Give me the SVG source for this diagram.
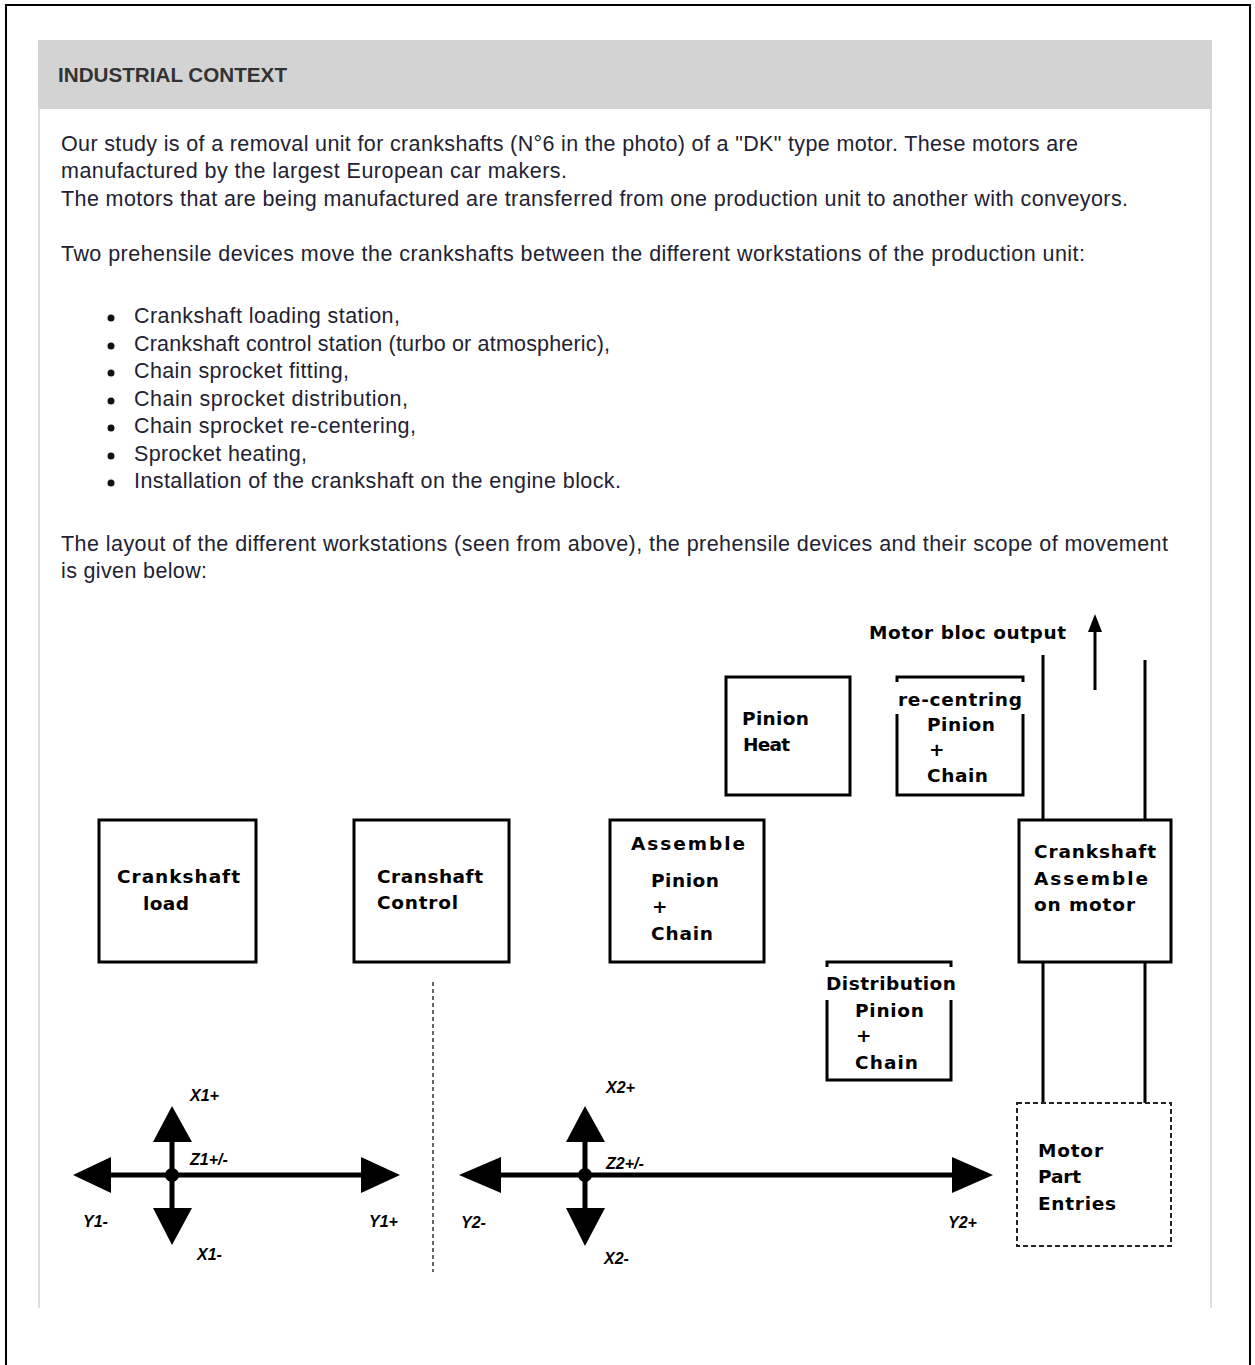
<svg xmlns="http://www.w3.org/2000/svg" width="1255" height="1365" viewBox="0 0 1255 1365">
<style>
.body{font-family:"Liberation Sans",Arial,sans-serif;font-size:21.5px;fill:#222233}
.hdr{font-family:"Liberation Sans",Arial,sans-serif;font-size:20px;font-weight:bold;fill:#333}
.lbl{font-family:"DejaVu Sans",sans-serif;font-size:18.5px;font-weight:bold;fill:#000}
.ax{font-family:"Liberation Sans",Arial,sans-serif;font-size:16px;font-weight:bold;font-style:italic;fill:#000}
.box{fill:#fff;stroke:#000;stroke-width:3}
.ln{stroke:#000;stroke-width:3;fill:none}
.axl{stroke:#000;stroke-width:5;fill:none}
.head{fill:#000}
</style>
<rect x="0" y="0" width="1255" height="1365" fill="#fff"/>
<path d="M6 1365 V5 H1250 V1365" fill="none" stroke="#000" stroke-width="2"/>
<rect x="38" y="40" width="1174" height="69" fill="#d3d3d3"/>
<path d="M39 109 V1308 M1211 109 V1308" stroke="#ddd" stroke-width="2"/>
<text class="hdr" x="58" y="82" textLength="229" lengthAdjust="spacingAndGlyphs">INDUSTRIAL CONTEXT</text>
<g id="intro">
<text class="body" x="61" y="151" textLength="1017">Our study is of a removal unit for crankshafts (N°6 in the photo) of a "DK" type motor. These motors are</text>
<text class="body" x="61" y="178" textLength="506">manufactured by the largest European car makers.</text>
<text class="body" x="61" y="206" textLength="1067">The motors that are being manufactured are transferred from one production unit to another with conveyors.</text>
<text class="body" x="61" y="261" textLength="1024">Two prehensile devices move the crankshafts between the different workstations of the production unit:</text>
</g>
<g id="bullets">
<circle cx="111" cy="318" r="3.5" fill="#111"/><text class="body" x="134" y="323" textLength="266">Crankshaft loading station,</text>
<circle cx="111" cy="346" r="3.5" fill="#111"/><text class="body" x="134" y="351" textLength="476">Crankshaft control station (turbo or atmospheric),</text>
<circle cx="111" cy="373" r="3.5" fill="#111"/><text class="body" x="134" y="378" textLength="215">Chain sprocket fitting,</text>
<circle cx="111" cy="401" r="3.5" fill="#111"/><text class="body" x="134" y="406" textLength="274">Chain sprocket distribution,</text>
<circle cx="111" cy="428" r="3.5" fill="#111"/><text class="body" x="134" y="433" textLength="282">Chain sprocket re-centering,</text>
<circle cx="111" cy="456" r="3.5" fill="#111"/><text class="body" x="134" y="461" textLength="173">Sprocket heating,</text>
<circle cx="111" cy="483" r="3.5" fill="#111"/><text class="body" x="134" y="488" textLength="487">Installation of the crankshaft on the engine block.</text>
</g>
<g id="layout-text">
<text class="body" x="61" y="551" textLength="1107">The layout of the different workstations (seen from above), the prehensile devices and their scope of movement</text>
<text class="body" x="61" y="578" textLength="146">is given below:</text>
</g>

<g id="connectors">
<path class="ln" d="M1043 655 V1103 M1145 660 V1103"/>
<path class="ln" d="M1095 690 V628"/>
<path class="head" d="M1095 614 L1088 632 L1102 632 Z"/>
<path d="M433 982 V1272" stroke="#333" stroke-width="1.5" stroke-dasharray="4 3"/>
</g>

<text class="lbl" x="869" y="639" textLength="197">Motor bloc output</text>

<g id="pinion-heat">
<rect class="box" x="726" y="677" width="124" height="118"/>
<text class="lbl" x="742" y="725" textLength="67">Pinion</text>
<text class="lbl" x="743" y="751" textLength="47">Heat</text>
</g>
<g id="recentring">
<path class="ln" d="M897 682 V677 H1023 V682 M897 714 V795 H1023 V714"/>
<text class="lbl" x="898" y="706" textLength="124">re-centring</text>
<text class="lbl" x="927" y="731" textLength="68">Pinion</text>
<text class="lbl" x="929" y="756">+</text>
<text class="lbl" x="927" y="782" textLength="61">Chain</text>
</g>
<g id="crankshaft-load">
<rect class="box" x="99" y="820" width="157" height="142"/>
<text class="lbl" x="117" y="883" textLength="123">Crankshaft</text>
<text class="lbl" x="143" y="910" textLength="46">load</text>
</g>
<g id="cranshaft-control">
<rect class="box" x="354" y="820" width="155" height="142"/>
<text class="lbl" x="377" y="883" textLength="106">Cranshaft</text>
<text class="lbl" x="377" y="909" textLength="81">Control</text>
</g>
<g id="assemble">
<rect class="box" x="610" y="820" width="154" height="142"/>
<text class="lbl" x="631" y="850" textLength="114">Assemble</text>
<text class="lbl" x="651" y="887" textLength="68">Pinion</text>
<text class="lbl" x="652" y="913">+</text>
<text class="lbl" x="651" y="940" textLength="62">Chain</text>
</g>
<g id="crankshaft-assemble">
<rect class="box" x="1019" y="820" width="152" height="142"/>
<text class="lbl" x="1034" y="858" textLength="122">Crankshaft</text>
<text class="lbl" x="1034" y="885" textLength="114">Assemble</text>
<text class="lbl" x="1034" y="911" textLength="101">on motor</text>
</g>
<g id="distribution">
<path class="ln" d="M827 967 V962 H951 V967 M827 1000 V1080 H951 V1000"/>
<text class="lbl" x="826" y="990" textLength="130">Distribution</text>
<text class="lbl" x="855" y="1017" textLength="69">Pinion</text>
<text class="lbl" x="856" y="1042">+</text>
<text class="lbl" x="855" y="1069" textLength="63">Chain</text>
</g>
<g id="motor-part-entries">
<rect x="1017" y="1103" width="154" height="143" fill="#fff" stroke="#222" stroke-width="2" stroke-dasharray="5 3"/>
<text class="lbl" x="1038" y="1157" textLength="65">Motor</text>
<text class="lbl" x="1038" y="1183" textLength="43">Part</text>
<text class="lbl" x="1038" y="1210" textLength="78">Entries</text>
</g>

<g id="axes1">
<path class="axl" d="M105 1175 H365 M172 1140 V1210"/>
<path class="head" d="M73 1175 L111 1157 L111 1193 Z"/>
<path class="head" d="M400 1175 L361 1157 L361 1193 Z"/>
<path class="head" d="M172 1106 L153 1142 L192 1142 Z"/>
<path class="head" d="M172 1245 L153 1208 L192 1208 Z"/>
<circle cx="172" cy="1175" r="7" fill="#000"/>
<text class="ax" x="190" y="1101">X1+</text>
<text class="ax" x="190" y="1165">Z1+/-</text>
<text class="ax" x="83" y="1227">Y1-</text>
<text class="ax" x="369" y="1227">Y1+</text>
<text class="ax" x="197" y="1260">X1-</text>
</g>
<g id="axes2">
<path class="axl" d="M495 1175 H957 M585 1140 V1210"/>
<path class="head" d="M459 1175 L501 1157 L501 1193 Z"/>
<path class="head" d="M993 1175 L952 1157 L952 1193 Z"/>
<path class="head" d="M585 1106 L566 1142 L605 1142 Z"/>
<path class="head" d="M585 1246 L566 1208 L605 1208 Z"/>
<circle cx="585" cy="1175" r="7" fill="#000"/>
<text class="ax" x="606" y="1093">X2+</text>
<text class="ax" x="606" y="1169">Z2+/-</text>
<text class="ax" x="461" y="1228">Y2-</text>
<text class="ax" x="948" y="1228">Y2+</text>
<text class="ax" x="604" y="1264">X2-</text>
</g>
</svg>
